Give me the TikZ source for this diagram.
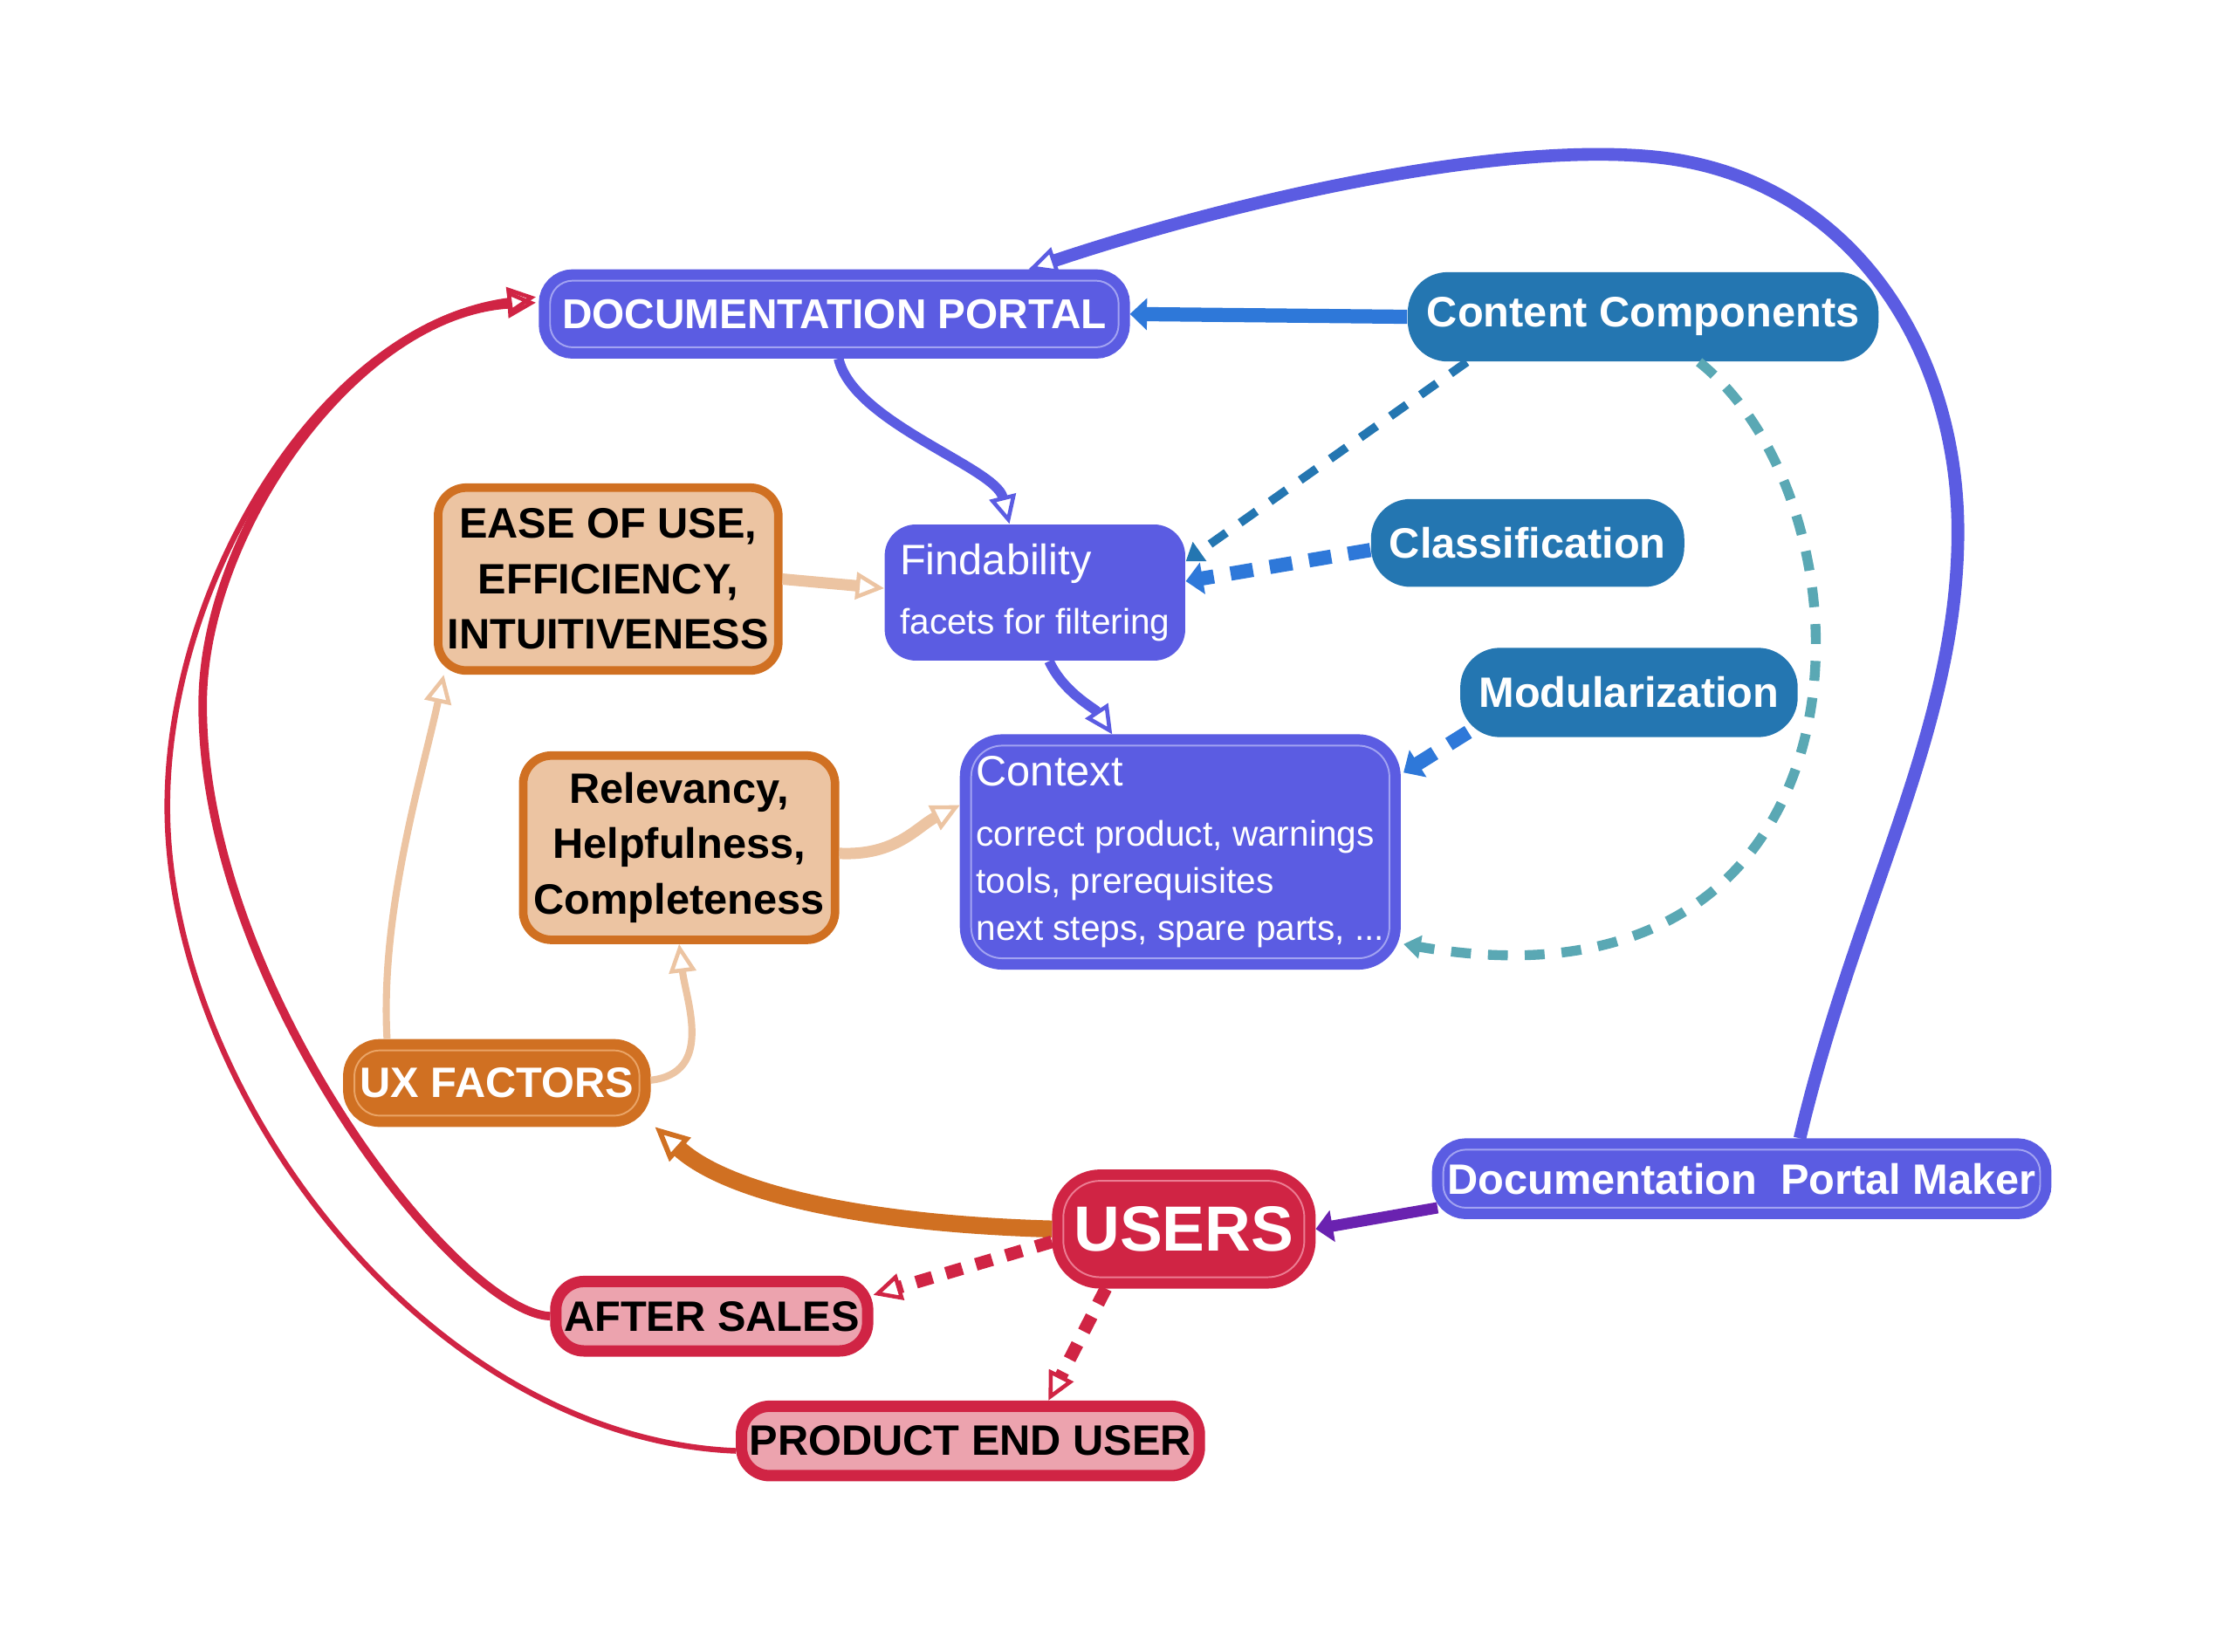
\documentclass[tikz,border=0pt]{standalone}
\usepackage{fontspec}
\setmainfont{Liberation Sans}
\usetikzlibrary{arrows.meta,calc}
\definecolor{portalviolet}{HTML}{5B5CE2}
\definecolor{portalline}{HTML}{A2A3F2}
\definecolor{compblue}{HTML}{2476B1}
\definecolor{linkblue}{HTML}{2E78D9}
\definecolor{dashteal}{HTML}{5AA8B4}
\definecolor{uxorange}{HTML}{D07022}
\definecolor{uxline}{HTML}{EAA466}
\definecolor{uxpeach}{HTML}{ECC4A2}
\definecolor{usercrimson}{HTML}{D02444}
\definecolor{userline}{HTML}{EC7C92}
\definecolor{userpink}{HTML}{ECA3AE}
\definecolor{makerpurple}{HTML}{6A22B0}

\tikzset{
  boldfont/.style={font=\fontsize{15}{19.5}\selectfont\bfseries},
  bandbox/.style={fill=#1, preaction={draw=#1, line width=8pt}, line width=0.6pt,
    outer sep=4pt, inner sep=0pt, rounded corners=8pt, text=white},
  compbox/.style={fill=compblue, inner sep=0pt, rounded corners=14pt, text=white, boldfont},
  uxbox/.style={fill=uxpeach, draw=uxorange, line width=3pt, inner sep=0pt,
    rounded corners=10pt, align=center, boldfont},
  userbox/.style={fill=userpink, draw=usercrimson, line width=4pt, inner sep=0pt,
    rounded corners=10pt, boldfont},
  opentip/.style={-{Triangle[open,length=10pt,width=9.5pt,line width=1.4pt]}},
  bigopentip/.style={-{Triangle[open,length=12pt,width=11pt,line width=1.8pt]}},
  filltip/.style={-{Triangle[length=6pt,width=11pt]}},
  smalltip/.style={-{Triangle[length=6pt,width=8pt]}},
  dashlink/.style={dash pattern=on 7pt off 6pt},
}

\begin{document}
\begin{tikzpicture}[x=0.5pt,y=0.5pt,yscale=-1,xscale=1]
\useasboundingbox (0,0) rectangle (1568,1165);

% Nodes
\node[bandbox=portalviolet, draw=portalline, minimum width=200.5pt, minimum height=23.5pt,
  font=\fontsize{14.7}{18}\selectfont\bfseries] (portal) at (588.5,221.5) {DOCUMENTATION PORTAL};
\node[compbox, minimum width=166pt, minimum height=31.5pt] (comps) at (1159,223.5) {Content Components};
\node[compbox, minimum width=110.5pt, minimum height=31pt] (classif) at (1077.5,383) {Classification};
\node[compbox, minimum width=119pt, minimum height=31.5pt] (modul) at (1149,488.5) {Modularization};
\node[uxbox, minimum width=120pt, minimum height=64.5pt] (ease) at (429,408.5) {EASE OF USE,\\EFFICIENCY,\\INTUITIVENESS};
\node[uxbox, minimum width=110pt, minimum height=65pt] (relev) at (479,598) {Relevancy,\\Helpfulness,\\Completeness};
\node[fill=portalviolet, inner sep=0pt, rounded corners=11pt, text=white, align=left,
  minimum width=106pt, minimum height=48pt, font=\fontsize{12.5}{21}\selectfont] (find) at (730,418)
  {{\fontsize{15}{18}\selectfont Findability}\\facets for filtering};
\node[bandbox=portalviolet, draw=portalline, rounded corners=11pt, align=left,
  minimum width=147.5pt, minimum height=75pt, font=\fontsize{12.5}{16.75}\selectfont] (context) at (832.5,601)
  {{\fontsize{15}{18}\selectfont Context}\\[4.5pt]correct product, warnings\\tools, prerequisites\\next steps, spare parts, ...};
\node[bandbox=uxorange, draw=uxline, rounded corners=9pt, minimum width=100.5pt, minimum height=23pt,
  boldfont] (ux) at (350.5,764) {UX FACTORS};
\node[bandbox=usercrimson, draw=userline, rounded corners=13pt, minimum width=85pt, minimum height=34pt,
  font=\fontsize{22.5}{27}\selectfont\bfseries] (users) at (835,867) {USERS};
\node[bandbox=portalviolet, draw=portalline, minimum width=210.5pt, minimum height=20.5pt,
  boldfont] (maker) at (1228.5,831.5) {Documentation\ \ Portal Maker};
\node[userbox, minimum width=110pt, minimum height=24.5pt] (after) at (502,928.5) {AFTER SALES};
\node[userbox, minimum width=161.5pt, minimum height=24.5pt] (enduser) at (684.5,1016.5) {PRODUCT END USER};

% Connectors
\draw[portalviolet, line width=3.5pt, opentip] ($(portal.south)+(3,0)$) .. controls +(10,45) and +(-10,-40) .. ($(find.north)+(-18,0)$);
\draw[linkblue, line width=5pt, filltip] (comps.west) -- (portal.east);
\draw[compblue, line width=3pt, dashlink, smalltip] ($(comps.south west)+(42,0)$) -- ($(find.east)+(0,-22)$);
\draw[linkblue, line width=5pt, dash pattern=on 8pt off 6pt, filltip] ($(classif.west)+(0,5)$) -- ($(find.east)+(0,-8)$);
\draw[linkblue, line width=5pt, dash pattern=on 8pt off 6pt, filltip] ($(modul.south west)+(6,-4)$) -- ($(context.north east)+(2,27)$);
\draw[dashteal, line width=3.5pt, dashlink, smalltip] ($(comps.south east)+(-127,0)$) .. controls +(132,105) and +(340,59) .. ($(context.south east)+(2,-18)$);
\draw[portalviolet, line width=3.5pt, opentip] ($(find.south)+(10,0)$) .. controls +(10,22) and +(-12,-18) .. ($(context.north)+(-48,0)$);
\draw[uxpeach, line width=4pt, opentip] (ease.east) -- ($(find.west)+(0,-3)$);
\draw[uxpeach, line width=4pt, opentip] ($(relev.east)+(0,4)$) .. controls +(40,2) and +(-30,15) .. ($(context.west)+(0,-33)$);
\draw[uxpeach, line width=2.5pt, opentip] ($(ux.north west)+(31,0)$) .. controls +(-5,-90) and +(-15,70) .. ($(ease.south west)+(7,0)$);
\draw[uxpeach, line width=2.5pt, opentip] ($(ux.east)+(0,-2)$) .. controls +(45,-5) and +(5,40) .. (relev.south);
\draw[uxorange, line width=6pt, bigopentip] (users.west) .. controls +(-140,-4) and +(50,45) .. ($(ux.south east)+(3,0)$);
\draw[usercrimson, line width=4.5pt, dash pattern=on 6pt off 5pt, opentip] ($(users.west)+(0,9)$) -- ($(after.east)+(0,-15)$);
\draw[usercrimson, line width=4.5pt, dash pattern=on 6pt off 5pt, opentip] ($(users.south)+(-55,0)$) -- ($(enduser.north)+(55,0)$);
\draw[makerpurple, line width=4pt, filltip] ($(maker.south west)+(4,-8)$) -- (users.east);
\draw[portalviolet, line width=4.5pt, opentip] ($(maker.north)+(41,0)$) .. controls +(40,-170) and +(0,140) .. (1381,375)
  .. controls +(0,-130) and +(135,15) .. (1170,111)
  .. controls +(-110,-12) and +(150,-50) .. ($(portal.north)+(137,0)$);
\draw[usercrimson, line width=3pt, opentip] (after.west) .. controls +(-68,-3.5) and +(-3,197) .. (143,493)
  .. controls +(2,-120) and +(-126,8) .. ($(portal.west)+(-2,-8)$);
\draw[usercrimson, line width=2pt, opentip] ($(enduser.west)+(0,7)$) .. controls +(-219,-9) and +(0,200) .. (118,569)
  .. controls +(0,-160) and +(-150,20) .. ($(portal.west)+(-2,-12)$);

\end{tikzpicture}
\end{document}
